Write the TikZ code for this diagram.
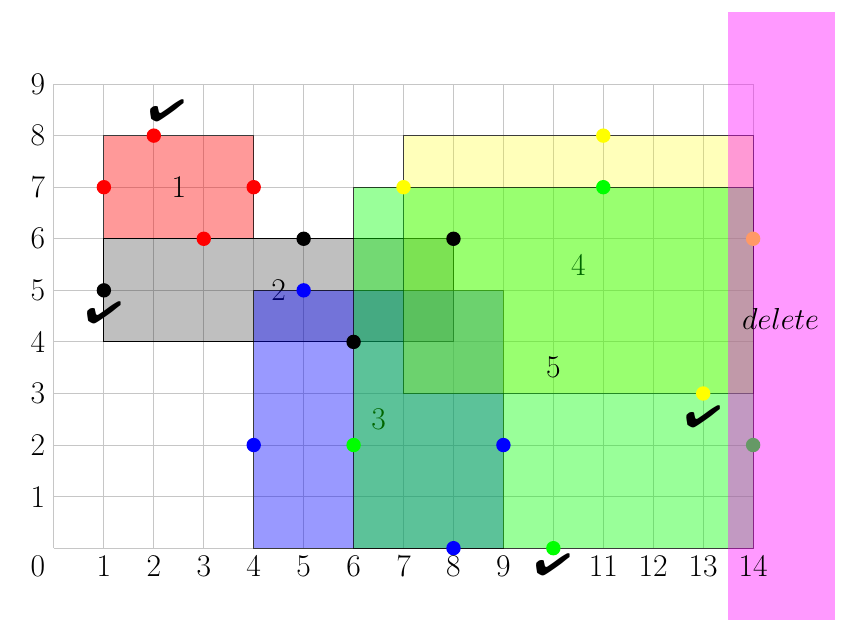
\documentclass[tikz,border=0pt]{standalone}
\usepackage{pifont}
\definecolor{mag}{RGB}{255,0,255}
\definecolor{yel}{RGB}{255,255,0}
\definecolor{grn}{RGB}{0,255,0}
\definecolor{rd}{RGB}{255,0,0}
\definecolor{bl}{RGB}{0,0,255}
\begin{document}
\begin{tikzpicture}[x=1cm,y=1.0326cm,
  lbl/.style={font=\fontsize{18}{22}\selectfont, inner sep=0pt},
  dot/.style={circle, inner sep=0pt, minimum size=8.2pt},
  rectbox/.style={draw=black, draw opacity=0.7, line width=0.5pt},
  chk/.style={font=\fontsize{22}{26}\selectfont, inner sep=0pt},
  gridline/.style={gray!45, line width=0.5pt},
]
\useasboundingbox (-1.08,-1.765) rectangle (15.90,10.63);
\foreach \i in {0,...,14} \draw[gridline] (\i,0) -- (\i,9);
\foreach \j in {0,...,9} \draw[gridline] (0,\j) -- (14,\j);
% rectangles and their labels
\filldraw[rectbox, fill=rd, fill opacity=0.4] (1,6) rectangle (4,8);
\node[lbl] (n1) at (2.5,7) {1};
\filldraw[rectbox, fill=black, fill opacity=0.25, draw opacity=1] (1,4) rectangle (8,6);
\node[lbl] (n2) at (4.5,5) {2};
\filldraw[rectbox, fill=bl, fill opacity=0.4] (4,0) rectangle (9,5);
\node[lbl] (n3) at (6.5,2.5) {3};
\filldraw[rectbox, fill=yel, fill opacity=0.27] (7,3) rectangle (14,8);
\node[lbl] (n4) at (10.5,5.5) {4};
\filldraw[rectbox, fill=grn, fill opacity=0.4] (6,0) rectangle (14,7);
\node[lbl] (n5) at (10,3.5) {5};
% dots
\foreach \p/\q [count=\i] in {2/8,1/7,4/7,3/6} \node[dot, fill=rd] (r\i) at (\p,\q) {};
\foreach \p/\q [count=\i] in {5/6,1/5,8/6,6/4} \node[dot, fill=black] (k\i) at (\p,\q) {};
\foreach \p/\q [count=\i] in {5/5,4/2,9/2,8/0} \node[dot, fill=bl] (b\i) at (\p,\q) {};
\foreach \p/\q [count=\i] in {11/7,6/2,14/2,10/0} \node[dot, fill=grn] (g\i) at (\p,\q) {};
\foreach \p/\q [count=\i] in {11/8,7/7,14/6,13/3} \node[dot, fill=yel] (y\i) at (\p,\q) {};
% check marks
\newcommand{\mychk}{\scalebox{1.12}[0.8]{\ding{52}}}
\node[chk] (c1) at (2.26,8.49) {\mychk};
\node[chk] (c2) at (1.0,4.57) {\mychk};
\node[chk] (c3) at (13.0,2.54) {\mychk};
\node[chk] (c4) at (9.99,-0.33) {\mychk};
% delete zone
\fill[mag, opacity=0.4] (13.5,-1.4) rectangle (15.64,10.4);
\node[lbl] (del) at (14.55,4.45) {$delete$};
% axis labels
\foreach \x in {1,...,9,11,12,13,14} \node[lbl] (xl\x) at (\x,-0.35) {\x};
\foreach \y in {1,...,9} \node[lbl] (yl\y) at (-0.32,\y) {\y};
\node[lbl] (yl0) at (-0.32,-0.35) {0};
\end{tikzpicture}
\end{document}
